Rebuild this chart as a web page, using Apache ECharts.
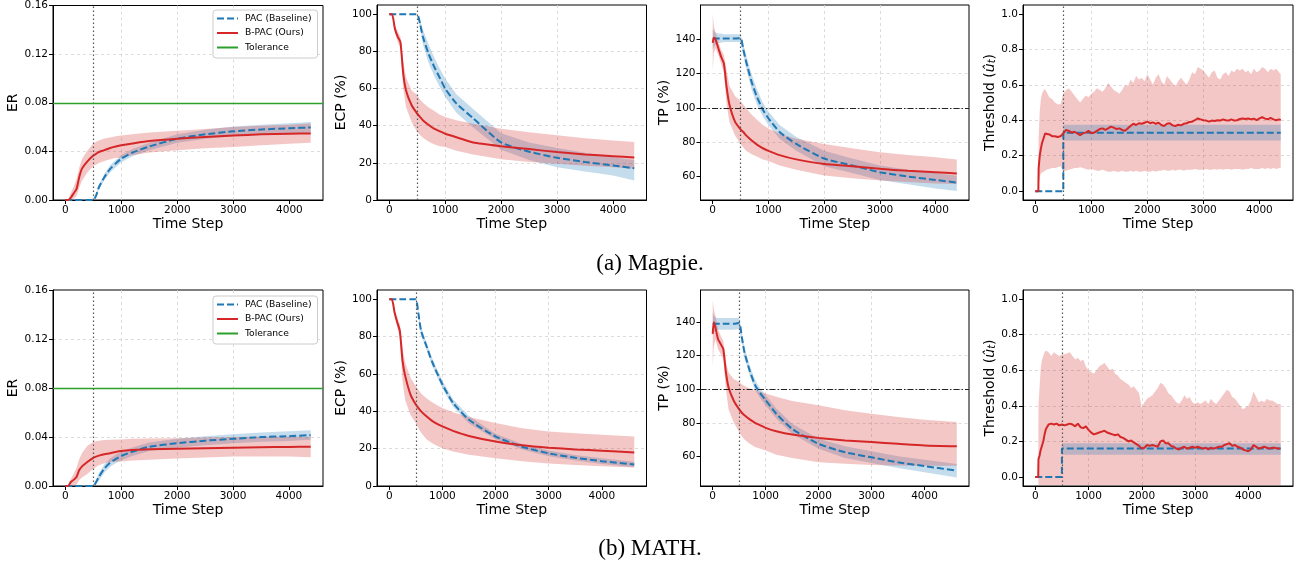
<!DOCTYPE html>
<html><head><meta charset="utf-8">
<script src="https://cdn.jsdelivr.net/npm/echarts@6/dist/echarts.min.js"></script>
<style>html,body{margin:0;padding:0;background:#fff}#c{width:1299px;height:567px}</style>
</head><body><div id="c"></div>
<script>
// ---------------- tick labels ----------------
const ticksX = [0, 1000, 2000, 3000, 4000];
const ticksER = [0, 0.04, 0.08, 0.12, 0.16];
const ticksECP = [0, 20, 40, 60, 80, 100];
const ticksTP = [60, 80, 100, 120, 140];
const ticksThr = [0, 0.2, 0.4, 0.6, 0.8, 1.0];
const switchStep = 500;   // dotted vertical line
const tolerance = 0.08;   // ER tolerance
const tpRef = 100;        // TP reference
const captions = ['(a) Magpie.', '(b) MATH.'];
const legendNames = ['PAC (Baseline)', 'B-PAC (Ours)', 'Tolerance'];

// ---------------- Magpie ----------------
const magSteps = [0,50,100,150,200,250,300,400,500,550,600,700,800,900,1000,1200,1500,2000,2500,3000,3500,4000,4380];
const magErRed   = [0,0,0.002,0.0055,0.009,0.019,0.026,0.032,0.0366,0.038,0.0395,0.041,0.0428,0.044,0.045,0.0465,0.0485,0.0504,0.0518,0.053,0.054,0.0545,0.0548];
const magErRedHi = [0,0,0.006,0.011,0.017,0.027,0.034,0.041,0.0465,0.048,0.049,0.0505,0.0515,0.0525,0.053,0.054,0.0555,0.057,0.0585,0.06,0.061,0.062,0.063];
const magErRedLo = [0,0,0,0.001,0.003,0.01,0.016,0.023,0.028,0.029,0.0305,0.032,0.0335,0.0345,0.035,0.037,0.039,0.041,0.0425,0.0436,0.045,0.0463,0.047];
const magErBlue   = [0,0,0,0,0,0,0,0,0,0.0036,0.0105,0.019,0.0256,0.030,0.034,0.039,0.044,0.0505,0.054,0.0565,0.058,0.059,0.0597];
const magErBlueHi = [0,0,0,0,0,0,0,0,0,0.0046,0.0125,0.0215,0.0286,0.033,0.037,0.042,0.047,0.054,0.0577,0.0605,0.062,0.0632,0.0642];
const magErBlueLo = [0,0,0,0,0,0,0,0,0,0.0026,0.0085,0.0165,0.0226,0.027,0.031,0.036,0.041,0.047,0.0503,0.0525,0.054,0.0548,0.0552];

const magEcpRed   = [100,100,92.4,88,85,68,59,51,46.5,44.7,43,40.5,38.4,37,35.7,33.8,31,29,27.4,25.8,24.5,23.6,22.9];
const magEcpRedHi = [100,100,94,91,88,75,66,59,56.5,54,52.5,50,48,46,44.7,43,41,38.4,36.5,34.8,33.3,32,31.2];
const magEcpRedLo = [100,100,90.5,85,82,60,50,42,36.6,35,33.5,31.5,30,29,28.5,26.5,24.5,22,20.5,19.5,18.5,17.7,16.8];
const magEcpBlue   = [100,100,100,100,100,100,100,100,100,95,88,79,72,66,60,52,44,31,26,22.7,20.5,18.6,17.1];
const magEcpBlueHi = [100,100,100,100,100,100,100,100,100,97,92,84,77,71,65.4,57,49,36,31,28,25.5,23,21.6];
const magEcpBlueLo = [100,100,100,100,100,100,100,100,100,93,84,74,67,61,55.5,47,39,27,21.5,17.7,15.3,13.2,10.5];

const magTpSteps = [0,20,50,100,150,200,250,300,400,500,550,600,700,800,900,1000,1200,1500,2000,2500,3000,3500,4000,4380];
const magTpRed   = [138,141,140,135,130,126,112,102,92,87.5,86,84,81,78.5,76.5,75,72.5,70,67.3,66,64.5,63.3,62.5,61.8];
const magTpRedHi = [155,148,144,139,134,131,122,113,107,104,102,100,96,93,90,88,85,82,79,76.5,74.2,72.5,71.3,70];
const magTpRedLo = [122,132,135,131,126,121,102,92,84,79,77,75,73,71.5,70,69,66.5,64,60.6,59,57.7,56.8,56,55.6];
const magTpBlue   = [140.5,140.5,140.5,140.5,140.5,140.5,140.5,140.5,140.5,140.8,134,127,115,106,99,94,86,79,70.5,66.5,62.5,60,58,56.5];
const magTpBlueHi = [146,145,144,143.5,143.5,143,143,143,143,143,137,131,119.5,110.5,103,98,90,83,75,70.5,66.5,64,62,60.5];
const magTpBlueLo = [134,136,137,138,138,138.5,138.5,138.5,138.5,138.5,131,123,110.5,101.5,95,90,82,75,66,62,58,55.5,53,51.5];

// threshold: early steps, then every 50 steps
function every50(a, b) { const r = []; for (let s = a; s <= b; s += 50) r.push(s); return r; }
const magThrSteps = [0,55,60,80,100,120,150,175,200].concat(every50(250, 4350), [4380]);
const magThrRed = [0,0,0.13,0.2,0.24,0.27,0.3,0.325,0.33,
  0.32,0.31,0.31,0.305,0.31,0.326,0.345,0.34,0.33,0.335,
  0.326,0.316,0.326,0.33,0.34,0.326,0.33,0.34,0.35,0.354,
  0.345,0.354,0.364,0.358,0.35,0.354,0.345,0.34,0.354,0.367,
  0.38,0.373,0.383,0.38,0.386,0.392,0.383,0.388,0.38,0.386,
  0.373,0.367,0.38,0.383,0.371,0.367,0.375,0.371,0.38,0.383,
  0.39,0.392,0.4,0.41,0.405,0.4,0.398,0.392,0.398,0.396,
  0.4,0.398,0.405,0.4,0.398,0.405,0.398,0.4,0.407,0.41,
  0.407,0.41,0.405,0.409,0.4,0.41,0.417,0.409,0.405,0.413,
  0.405,0.4,0.405, 0.40];
const magThrRedHi = [0,0,0.3,0.45,0.52,0.55,0.57,0.575,0.56,
  0.53,0.52,0.5,0.49,0.49,0.55,0.57,0.58,0.56,0.54,
  0.52,0.5,0.52,0.54,0.53,0.55,0.56,0.58,0.57,0.56,
  0.58,0.61,0.59,0.57,0.56,0.55,0.57,0.6,0.59,0.63,
  0.61,0.65,0.63,0.64,0.62,0.66,0.63,0.6,0.64,0.66,
  0.62,0.6,0.65,0.63,0.61,0.59,0.62,0.64,0.62,0.6,
  0.63,0.67,0.66,0.7,0.69,0.68,0.66,0.64,0.67,0.68,
  0.64,0.63,0.66,0.67,0.65,0.68,0.67,0.69,0.68,0.69,
  0.67,0.68,0.66,0.69,0.67,0.68,0.7,0.69,0.67,0.69,
  0.68,0.69,0.67, 0.66];
const magThrRedLo = [0,0,0.03,0.08,0.1,0.105,0.11,0.115,0.12,
  0.125,0.13,0.13,0.135,0.14,0.11,0.115,0.12,0.125,0.13,
  0.13,0.135,0.13,0.125,0.12,0.125,0.12,0.115,0.115,0.12,
  0.115,0.11,0.11,0.115,0.11,0.11,0.115,0.11,0.11,0.115,
  0.11,0.115,0.11,0.11,0.115,0.11,0.11,0.115,0.11,0.115,
  0.115,0.12,0.115,0.115,0.12,0.115,0.12,0.12,0.115,0.12,
  0.12,0.12,0.125,0.12,0.12,0.12,0.125,0.12,0.12,0.125,
  0.12,0.125,0.12,0.125,0.125,0.12,0.125,0.125,0.125,0.12,
  0.125,0.125,0.13,0.125,0.125,0.125,0.13,0.125,0.13,0.125,
  0.13,0.125,0.13, 0.13];
const magPacThrSteps = [0, 500, 500, 4380];
const magPacThr   = [0, 0, 0.33, 0.33];
const magPacThrHi = [0, 0, 0.375, 0.375];
const magPacThrLo = [0, 0, 0.285, 0.285];

// ---------------- MATH ----------------
const mathErSteps = [0,50,100,150,200,250,300,400,500,550,600,700,800,900,1000,1200,1500,2000,2500,3000,3500,4000,4390];
const mathErRed   = [0,0,0.0033,0.005,0.0074,0.013,0.016,0.0198,0.023,0.024,0.0248,0.026,0.0267,0.0278,0.0286,0.0293,0.030,0.0305,0.0309,0.0313,0.0316,0.0319,0.032];
const mathErRedHi = [0,0,0.006,0.01,0.015,0.022,0.027,0.033,0.036,0.0365,0.037,0.0375,0.0378,0.038,0.038,0.0385,0.0388,0.039,0.0395,0.04,0.0402,0.0403,0.0403];
const mathErRedLo = [0,0,0,0.0005,0.001,0.005,0.007,0.01,0.014,0.0155,0.017,0.0185,0.0195,0.0198,0.02,0.0208,0.0215,0.0225,0.0232,0.024,0.024,0.024,0.0235];
const mathErBlue   = [0,0,0,0,0,0,0,0,0,0.003,0.0074,0.0143,0.019,0.022,0.0245,0.028,0.032,0.0349,0.037,0.0385,0.0399,0.0407,0.0415];
const mathErBlueHi = [0,0,0,0,0,0,0,0,0,0.005,0.0105,0.0178,0.0225,0.0255,0.028,0.0315,0.0355,0.0385,0.0407,0.0422,0.0437,0.0447,0.0455];
const mathErBlueLo = [0,0,0,0,0,0,0,0,0,0.001,0.0043,0.011,0.0155,0.0185,0.021,0.0245,0.0285,0.0313,0.0333,0.0348,0.0361,0.0368,0.0377];

const mathSteps = [0,50,100,150,200,250,300,400,500,550,600,700,800,900,1000,1200,1500,2000,2500,3000,3500,4000,4610];
const mathEcpRed   = [100,100,93,87.7,83,67,59,49,43.6,41.7,40,37.3,35,33.3,31.9,29.5,26.8,23.8,21.8,20.5,19.6,18.9,18];
const mathEcpRedHi = [100,100,94.5,90.5,86.5,74,66,58,53.5,51.5,49.5,47,45,43.2,41.8,39.5,37,33.7,31,29.2,28.2,27.4,26.5];
const mathEcpRedLo = [100,100,91.5,85,79.5,56,46,38,33.7,31,28.5,25,23,21.5,20.2,18.5,16.8,14.8,13.3,12.1,11.3,10.6,9.9];
const mathEcpBlue   = [100,100,100,100,100,100,100,100,100,92,83,75,67,60.5,54.4,44.5,35.5,26.5,21,17.5,15.1,13.3,11.5];
const mathEcpBlueHi = [100,100,100,100,100,100,100,100,100,93.5,85,77,69,62.5,56.4,46.5,37.5,28,22.5,19,16.6,14.8,13];
const mathEcpBlueLo = [100,100,100,100,100,100,100,100,100,90.5,81,73,65,58.5,52.4,42.5,33.5,25,19.5,16,13.6,11.8,10];

const mathTpSteps = [0,20,50,100,150,200,250,300,400,500,550,600,700,800,900,1000,1200,1500,2000,2500,3000,3500,4000,4610];
const mathTpRed   = [133,140,137,130,127,124,110,101,93,88,86,84.5,82,80,78.5,77,75,73,71,69.5,68.5,67.5,66.5,66];
const mathTpRedHi = [153,148,144,136,132,129,116,110,106,104.5,103,102,100.5,99.5,98.5,97.4,95.5,93,90.4,87.5,85.4,83.5,81.8,80.4];
const mathTpRedLo = [114,125,130,124,121,118,100,88,80,74.3,72,70,67.5,65.5,64.5,63.4,61,59,56.4,55.5,54.8,54.6,54.4,54.4];
const mathTpBlue   = [139,139,139,139,139,139,139,139,139,139.5,131,122,111,102.5,97.5,93.5,85.4,76.4,67.4,62.4,59.4,56.4,54.2,51.4];
const mathTpBlueHi = [146,144,143,142.5,142.5,142.5,142.5,142.5,142.5,142.5,134,125,114,105.5,100.5,96.5,88.5,79.5,70.5,66,63,60,58,55.4];
const mathTpBlueLo = [132,134,135,135.5,135.5,135.5,135.5,135.5,135.5,136,128,119,108,99.5,94.5,90.5,82.5,73.5,64.5,59,56,53,50.5,47.4];

const mathThrSteps = [0,55,60,80,100,120,150,175,200].concat(every50(250, 4600), [4610]);
const mathThrRed = [0,0,0.1,0.12,0.15,0.17,0.2,0.24,0.27,
  0.295,0.3,0.295,0.3,0.29,0.295,0.29,0.295,0.3,0.295,
  0.285,0.3,0.28,0.275,0.285,0.265,0.25,0.24,0.245,0.25,
  0.255,0.26,0.25,0.245,0.24,0.235,0.24,0.225,0.22,0.21,
  0.2,0.205,0.195,0.185,0.175,0.16,0.165,0.18,0.175,0.18,
  0.175,0.17,0.2,0.205,0.19,0.19,0.175,0.17,0.16,0.155,
  0.165,0.17,0.16,0.165,0.17,0.165,0.17,0.165,0.16,0.165,
  0.155,0.165,0.16,0.165,0.17,0.17,0.18,0.185,0.19,0.175,
  0.18,0.17,0.165,0.155,0.15,0.145,0.155,0.18,0.17,0.16,
  0.165,0.17,0.165,0.16,0.165,0.165,0.16,0.16, 0.16];
const mathThrRedHi = [0,0,0.4,0.5,0.6,0.65,0.68,0.7,0.71,
  0.7,0.68,0.7,0.69,0.68,0.69,0.69,0.695,0.7,0.68,
  0.66,0.67,0.65,0.66,0.62,0.6,0.59,0.58,0.6,0.62,
  0.63,0.64,0.62,0.6,0.61,0.58,0.57,0.55,0.54,0.53,
  0.52,0.5,0.51,0.49,0.47,0.39,0.42,0.44,0.45,0.46,
  0.48,0.5,0.53,0.52,0.5,0.47,0.46,0.44,0.42,0.41,
  0.43,0.46,0.44,0.45,0.42,0.41,0.42,0.41,0.42,0.43,
  0.41,0.44,0.42,0.41,0.43,0.45,0.47,0.49,0.48,0.45,
  0.44,0.42,0.4,0.38,0.39,0.4,0.43,0.48,0.45,0.42,
  0.43,0.42,0.44,0.43,0.43,0.42,0.41,0.41, 0.41];
const mathThrLoSteps = [55, 60, 4610];
const mathThrRedLo = [0, -0.045, -0.045];
const mathPacThrSteps = [0, 500, 500, 4610];
const mathPacThr   = [0, 0, 0.16, 0.16];
const mathPacThrHi = [0, 0, 0.19, 0.19];
const mathPacThrLo = [0, 0, 0.125, 0.125];

// ---------------- styling / building ----------------
const F = 'DejaVu Sans';
const RED = '#d62728', BLUE = '#1f77b4', GREEN = '#2ca02c';
const RED_BAND = 'rgba(214,39,40,0.26)', BLUE_BAND = 'rgba(31,119,180,0.26)';
const GL = [53, 377, 700.5, 1023];
const GW = [270, 269.5, 268.5, 270];
const GT = [5, 290];
const GH = [195, 196];

const grids = [], xAxes = [], yAxes = [], series = [];
const pair = (xs, ys) => xs.map((x, i) => [x, ys[i]]);

function panel(row, col, xr, yc) {
  const gi = grids.length;
  grids.push({left: GL[col], top: GT[row], width: GW[col], height: GH[row], show: true, borderColor: '#000', borderWidth: 1});
  const split = {show: true, showMinLine: false, showMaxLine: false, lineStyle: {color: '#d4d4d4', type: [3, 3], width: 0.8}};
  xAxes.push({type: 'value', gridIndex: gi, min: xr[0], max: xr[1],
    name: 'Time Step', nameLocation: 'middle', nameGap: 17,
    nameTextStyle: {fontSize: 14, color: '#000', fontFamily: F},
    axisLine: {show: true, onZero: false, lineStyle: {color: '#000', width: 1}},
    axisTick: {show: true, length: 4, customValues: ticksX, lineStyle: {color: '#000', width: 1}},
    axisLabel: {customValues: ticksX, fontSize: 10.5, color: '#000', margin: 5, fontFamily: F, formatter: v => String(v)},
    splitLine: split});
  yAxes.push({type: 'value', gridIndex: gi, min: yc.min, max: yc.max,
    name: yc.name, nameLocation: 'middle', nameGap: yc.gap,
    nameTextStyle: Object.assign({fontSize: 14, color: '#000', fontFamily: F}, yc.rich ? {rich: yc.rich} : {}),
    axisLine: {show: true, onZero: false, lineStyle: {color: '#000', width: 1}},
    axisTick: {show: true, length: 4, customValues: yc.ticks, lineStyle: {color: '#000', width: 1}},
    axisLabel: {customValues: yc.ticks, fontSize: 10.5, color: '#000', margin: 5, fontFamily: F, formatter: yc.fmt},
    splitLine: split});
  return gi;
}

function band(gi, xsU, hi, xsL, lo, color) {
  series.push({type: 'custom', xAxisIndex: gi, yAxisIndex: gi, silent: true, z: 1, clip: true,
    data: [[xsU[0], hi[0]]],
    renderItem: (p, api) => {
      if (p.dataIndex !== 0) return null;
      const pts = [];
      for (let i = 0; i < xsU.length; i++) pts.push(api.coord([xsU[i], hi[i]]));
      for (let i = xsL.length - 1; i >= 0; i--) pts.push(api.coord([xsL[i], lo[i]]));
      return {type: 'polygon', shape: {points: pts}, style: {fill: color, stroke: null}};
    }});
}

function line(gi, name, xs, ys, color, type, smooth) {
  series.push({type: 'line', name, xAxisIndex: gi, yAxisIndex: gi, data: pair(xs, ys),
    symbol: 'none', showSymbol: false, smooth: smooth || false, clip: true, z: 3,
    lineStyle: {color, width: 2, type}, itemStyle: {color}});
}

function refs(gi, items) {
  series.push({type: 'line', xAxisIndex: gi, yAxisIndex: gi, data: [], z: 2, symbol: 'none',
    markLine: {silent: true, symbol: ['none', 'none'], label: {show: false}, animation: false, data: items}});
}
const vline = () => ({xAxis: switchStep, lineStyle: {color: '#555', type: [1.5, 2.5], width: 1.2}});

function tol(gi) {
  series.push({type: 'line', name: 'Tolerance', xAxisIndex: gi, yAxisIndex: gi, data: [], z: 2,
    symbol: 'none', lineStyle: {color: GREEN, width: 1.3}, itemStyle: {color: GREEN},
    markLine: {silent: true, symbol: ['none', 'none'], label: {show: false}, animation: false,
      data: [{yAxis: tolerance, lineStyle: {color: GREEN, width: 1.3, type: 'solid'}}]}});
}

const fmt2 = v => v.toFixed(2), fmt1 = v => v.toFixed(1), fmt0 = v => String(v);
const thrRich = {n: {fontSize: 14, fontFamily: F, color: '#000'},
  u: {fontSize: 14, fontFamily: F, fontStyle: 'italic', color: '#000'},
  s: {fontSize: 10, fontFamily: F, fontStyle: 'italic', color: '#000', verticalAlign: 'bottom'}};
const thrName = '{n|Threshold (}{u|û}{s|t}{n|)}';

function row(r, d) {
  // ER
  let g = panel(r, 0, d.erRange, {min: 0, max: 0.16, ticks: ticksER, fmt: fmt2, name: 'ER', gap: 30});
  refs(g, [vline()]);
  tol(g);
  band(g, d.erX, d.erBlueHi, d.erX, d.erBlueLo, BLUE_BAND);
  band(g, d.erX, d.erRedHi, d.erX, d.erRedLo, RED_BAND);
  line(g, 'PAC (Baseline)', d.erX, d.erBlue, BLUE, [7, 3], 0.2);
  line(g, 'B-PAC (Ours)', d.erX, d.erRed, RED, 'solid', 0.2);
  // ECP
  g = panel(r, 1, d.range, {min: 0, max: 105, ticks: ticksECP, fmt: fmt0, name: 'ECP (%)', gap: 28});
  refs(g, [vline()]);
  band(g, d.x, d.ecpBlueHi, d.x, d.ecpBlueLo, BLUE_BAND);
  band(g, d.x, d.ecpRedHi, d.x, d.ecpRedLo, RED_BAND);
  line(g, 'PAC (Baseline)', d.x, d.ecpBlue, BLUE, [7, 3], 0.2);
  line(g, 'B-PAC (Ours)', d.x, d.ecpRed, RED, 'solid', 0.2);
  // TP
  g = panel(r, 2, d.range, {min: d.tpRange[0], max: d.tpRange[1], ticks: ticksTP, fmt: fmt0, name: 'TP (%)', gap: 29});
  refs(g, [vline(), {yAxis: tpRef, lineStyle: {color: '#222', type: [6, 2, 1.5, 2], width: 1}}]);
  band(g, d.tpX, d.tpBlueHi, d.tpX, d.tpBlueLo, BLUE_BAND);
  band(g, d.tpX, d.tpRedHi, d.tpX, d.tpRedLo, RED_BAND);
  line(g, 'PAC (Baseline)', d.tpX, d.tpBlue, BLUE, [7, 3], 0.2);
  line(g, 'B-PAC (Ours)', d.tpX, d.tpRed, RED, 'solid', 0.2);
  // Threshold
  g = panel(r, 3, d.range, {min: -0.05, max: 1.05, ticks: ticksThr, fmt: fmt1, name: thrName, gap: 24, rich: thrRich});
  refs(g, [vline()]);
  band(g, d.thrX, d.thrRedHi, d.thrLoX, d.thrRedLo, RED_BAND);
  band(g, d.pacX, d.pacHi, d.pacX, d.pacLo, BLUE_BAND);
  line(g, 'PAC (Baseline)', d.pacX, d.pac, BLUE, [7, 3], false);
  line(g, 'B-PAC (Ours)', d.thrX, d.thrRed, RED, 'solid', false);
}

row(0, {erRange: [-219, 4599], range: [-219, 4599], tpRange: [46.3, 160.1],
  erX: magSteps, erRed: magErRed, erRedHi: magErRedHi, erRedLo: magErRedLo, erBlue: magErBlue, erBlueHi: magErBlueHi, erBlueLo: magErBlueLo,
  x: magSteps, ecpRed: magEcpRed, ecpRedHi: magEcpRedHi, ecpRedLo: magEcpRedLo, ecpBlue: magEcpBlue, ecpBlueHi: magEcpBlueHi, ecpBlueLo: magEcpBlueLo,
  tpX: magTpSteps, tpRed: magTpRed, tpRedHi: magTpRedHi, tpRedLo: magTpRedLo, tpBlue: magTpBlue, tpBlueHi: magTpBlueHi, tpBlueLo: magTpBlueLo,
  thrX: magThrSteps, thrRed: magThrRed, thrRedHi: magThrRedHi, thrLoX: magThrSteps, thrRedLo: magThrRedLo,
  pacX: magPacThrSteps, pac: magPacThr, pacHi: magPacThrHi, pacLo: magPacThrLo});
row(1, {erRange: [-219.5, 4609.5], range: [-230.5, 4840.5], tpRange: [42.3, 159.2],
  erX: mathErSteps, erRed: mathErRed, erRedHi: mathErRedHi, erRedLo: mathErRedLo, erBlue: mathErBlue, erBlueHi: mathErBlueHi, erBlueLo: mathErBlueLo,
  x: mathSteps, ecpRed: mathEcpRed, ecpRedHi: mathEcpRedHi, ecpRedLo: mathEcpRedLo, ecpBlue: mathEcpBlue, ecpBlueHi: mathEcpBlueHi, ecpBlueLo: mathEcpBlueLo,
  tpX: mathTpSteps, tpRed: mathTpRed, tpRedHi: mathTpRedHi, tpRedLo: mathTpRedLo, tpBlue: mathTpBlue, tpBlueHi: mathTpBlueHi, tpBlueLo: mathTpBlueLo,
  thrX: mathThrSteps, thrRed: mathThrRed, thrRedHi: mathThrRedHi, thrLoX: mathThrLoSteps, thrRedLo: mathThrRedLo,
  pacX: mathPacThrSteps, pac: mathPacThr, pacHi: mathPacThrHi, pacLo: mathPacThrLo});

const legendBase = {orient: 'vertical', left: 213, padding: [4, 6, 6, 3], itemGap: 5.5, itemWidth: 21, itemHeight: 10,
  backgroundColor: 'rgba(255,255,255,0.85)', borderColor: '#cccccc', borderWidth: 1, borderRadius: 3,
  itemStyle: {opacity: 0}, lineStyle: {width: 2},
  selectedMode: false, textStyle: {fontSize: 9.2, fontFamily: F, color: '#000', padding: [0, 0, 0, 2]}, data: legendNames};

const chart = echarts.init(document.getElementById('c'), null, {renderer: 'canvas'});
chart.setOption({
  animation: false,
  backgroundColor: '#fff',
  grid: grids, xAxis: xAxes, yAxis: yAxes, series,
  legend: [Object.assign({top: 10}, legendBase), Object.assign({top: 296}, legendBase)],
  graphic: [
    {type: 'text', x: 650, y: 264, style: {text: captions[0], fontSize: 23, fontFamily: 'Liberation Serif', fill: '#000', align: 'center', verticalAlign: 'middle'}},
    {type: 'text', x: 650, y: 549, style: {text: captions[1], fontSize: 23, fontFamily: 'Liberation Serif', fill: '#000', align: 'center', verticalAlign: 'middle'}}
  ]
});
</script></body></html>
